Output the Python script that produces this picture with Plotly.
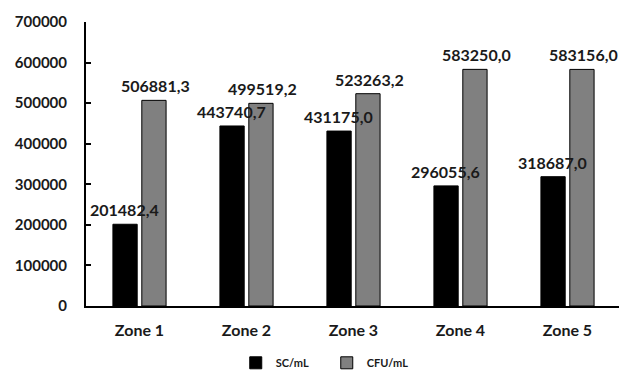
import plotly.graph_objects as go

zones = ["Zone 1", "Zone 2", "Zone 3", "Zone 4", "Zone 5"]
sc_ml = [201482.4, 443740.7, 431175.0, 296055.6, 318687.0]
cfu_ml = [506881.3, 499519.2, 523263.2, 583250.0, 583156.0]
y_ticks = [0, 100000, 200000, 300000, 400000, 500000, 600000, 700000]

def fmt(v):
    return f"{v:.1f}".replace(".", ",")

FONT = "Lato"
fig = go.Figure()
fig.add_trace(go.Bar(
    name="SC/mL", x=zones, y=sc_ml,
    marker=dict(color="#000000", line=dict(color="#000000", width=1)),
))
fig.add_trace(go.Bar(
    name="CFU/mL", x=zones, y=cfu_ml,
    marker=dict(color="#808080", line=dict(color="#000000", width=1)),
))
# value labels drawn on top of all bars
for vals, shift in ((sc_ml, -15.5), (cfu_ml, 15.5)):
    for z, v in zip(zones, vals):
        fig.add_annotation(x=z, y=v, text=fmt(v), showarrow=False,
                           xshift=shift, yshift=3, yanchor="bottom",
                           font=dict(family=FONT, size=16, color="#1a1a1a", weight="bold"))

# body has an 8px margin in the page: compensate
fig.update_layout(
    width=619, height=365,
    margin=dict(l=78, r=6, t=14, b=67, autoexpand=False),
    paper_bgcolor="white", plot_bgcolor="white",
    barmode="group", bargap=0.46, bargroupgap=0.16,
    font=dict(family=FONT, size=16, color="#1a1a1a", weight="bold"),
    showlegend=True,
    legend=dict(orientation="h", x=0.45, xanchor="center", y=-0.2, yanchor="middle",
                font=dict(family=FONT, size=11, weight="bold"),
                entrywidth=46, entrywidthmode="pixels",
                itemwidth=30, tracegroupgap=0),
    xaxis=dict(showline=True, linecolor="black", linewidth=2, ticks="", automargin=False,
               ticklabelstandoff=9,
               tickfont=dict(family=FONT, size=16, weight="bold"), showgrid=False),
    yaxis=dict(range=[0, 700000], tickvals=y_ticks, ticktext=[str(v) for v in y_ticks],
               showline=True, linecolor="black", linewidth=2, ticks="inside", automargin=False,
               ticklen=5, tickwidth=2, tickcolor="black", showgrid=False,
               ticklabelstandoff=14,
               zeroline=False, tickfont=dict(family=FONT, size=15, weight="bold")),
)
fig.write_html("out.html")
